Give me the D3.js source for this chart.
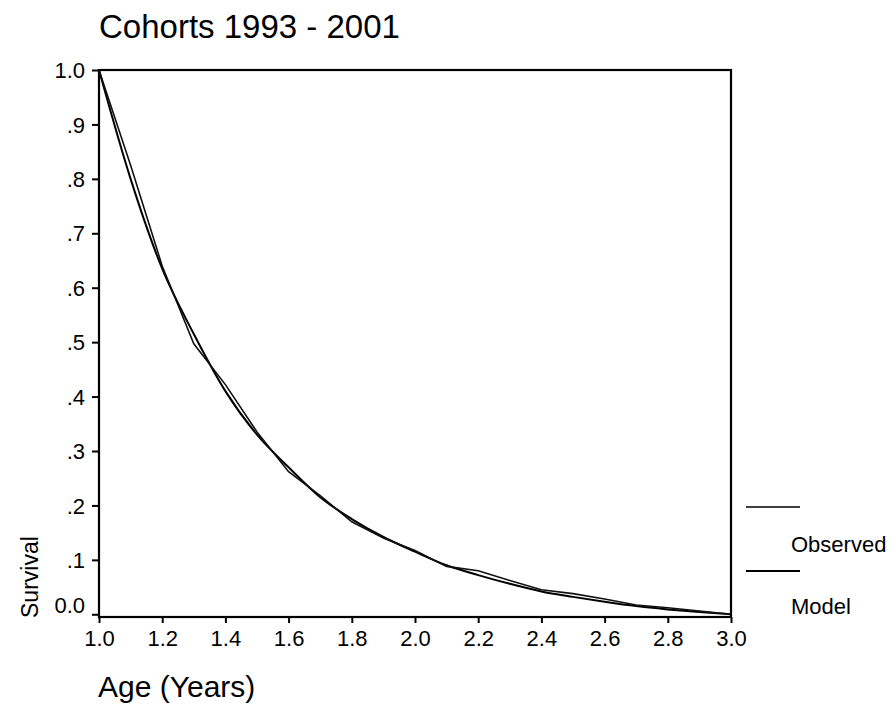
<!DOCTYPE html>
<html>
<head>
<meta charset="utf-8">
<script src="https://cdn.jsdelivr.net/npm/d3@7"></script>
<style>
  html, body { margin: 0; padding: 0; background: #fff; }
  svg { display: block; }
  text { font-family: "Liberation Sans", Arial, sans-serif; fill: #000; }
</style>
</head>
<body>
<svg id="chart" width="889" height="727"></svg>
<script>
// Survival by age, cohorts 1993 - 2001
const ages = [1.0, 1.1, 1.2, 1.3, 1.4, 1.5, 1.6, 1.7, 1.8, 1.9, 2.0,
              2.1, 2.2, 2.3, 2.4, 2.5, 2.6, 2.7, 2.8, 2.9, 3.0];
const observed = [1.0, 0.825, 0.64, 0.497, 0.422, 0.335, 0.262, 0.218, 0.170, 0.140, 0.117,
                  0.088, 0.080, 0.062, 0.045, 0.038, 0.028, 0.017, 0.012, 0.006, 0.0];
const model = [1.0, 0.80, 0.635, 0.515, 0.41, 0.33, 0.27, 0.215, 0.175, 0.142, 0.115,
               0.090, 0.072, 0.056, 0.042, 0.032, 0.023, 0.015, 0.009, 0.004, 0.0];
const xTicks = [1.0, 1.2, 1.4, 1.6, 1.8, 2.0, 2.2, 2.4, 2.6, 2.8, 3.0];
const yTicks = [0.0, 0.1, 0.2, 0.3, 0.4, 0.5, 0.6, 0.7, 0.8, 0.9, 1.0];
const yTickLabels = ["0.0", ".1", ".2", ".3", ".4", ".5", ".6", ".7", ".8", ".9", "1.0"];
const seriesNames = ["Observed", "Model"];

const svg = d3.select("#chart");
const plotLeft = 99, plotRight = 731, plotTop = 70, plotBottom = 617;

const x = d3.scaleLinear().domain([1, 3]).range([plotLeft, plotRight]);
const y = d3.scaleLinear().domain([-0.005, 1]).range([plotBottom, plotTop]);

// title
svg.append("text")
  .attr("x", 99).attr("y", 38)
  .style("font-size", "33px")
  .text("Cohorts 1993 - 2001");

// axes
const xAxis = d3.axisBottom(x).tickValues(xTicks).tickSize(6).tickSizeOuter(0)
  .tickFormat(d3.format(".1f"));
const gx = svg.append("g").attr("transform", `translate(0,${plotBottom})`).call(xAxis);
gx.select(".domain").remove();
gx.selectAll(".tick line").attr("stroke", "#000").attr("stroke-width", 2);
gx.selectAll(".tick text")
  .attr("y", 13).attr("dy", "0.71em")
  .style("font-size", "22px").style("font-family", "Liberation Sans, Arial, sans-serif")
  .attr("fill", "#000");

const yAxis = d3.axisLeft(y).tickValues(yTicks).tickSize(7).tickSizeOuter(0)
  .tickFormat((d, i) => yTickLabels[i]);
const gy = svg.append("g").attr("transform", `translate(${plotLeft},0)`).call(yAxis);
gy.select(".domain").remove();
gy.selectAll(".tick line").attr("stroke", "#000").attr("stroke-width", 2);
gy.selectAll(".tick text")
  .attr("x", -14)
  .style("font-size", "22px").style("font-family", "Liberation Sans, Arial, sans-serif")
  .attr("fill", "#000")
  .attr("dy", d => d === 0 ? "-0.1em" : "0.35em");

// plot frame
svg.append("rect")
  .attr("x", plotLeft).attr("y", plotTop)
  .attr("width", plotRight - plotLeft).attr("height", plotBottom - plotTop)
  .attr("fill", "none").attr("stroke", "#000").attr("stroke-width", 2.2);

// series lines
const obsLine = d3.line().x((d, i) => x(ages[i])).y(d => y(d));
const modelLine = d3.line().x((d, i) => x(ages[i])).y(d => y(d)).curve(d3.curveMonotoneX);

svg.append("path").datum(model)
  .attr("d", modelLine)
  .attr("fill", "none").attr("stroke", "#000").attr("stroke-width", 2);
svg.append("path").datum(observed)
  .attr("d", obsLine)
  .attr("fill", "none").attr("stroke", "#111").attr("stroke-width", 1.6);

// axis titles
svg.append("text")
  .attr("transform", "translate(38,618) rotate(-90)")
  .style("font-size", "23px")
  .text("Survival");
svg.append("text")
  .attr("x", 98).attr("y", 697)
  .style("font-size", "30px")
  .text("Age (Years)");

// legend
const legend = svg.append("g");
const legendRows = [
  { name: seriesNames[0], lineY: 507, textY: 552, width: 1.3 },
  { name: seriesNames[1], lineY: 571, textY: 614, width: 2 }
];
legendRows.forEach(r => {
  legend.append("line")
    .attr("x1", 746).attr("x2", 800)
    .attr("y1", r.lineY).attr("y2", r.lineY)
    .attr("stroke", "#000").attr("stroke-width", r.width);
  legend.append("text")
    .attr("x", 791).attr("y", r.textY)
    .style("font-size", "22px")
    .text(r.name);
});
</script>
</body>
</html>
